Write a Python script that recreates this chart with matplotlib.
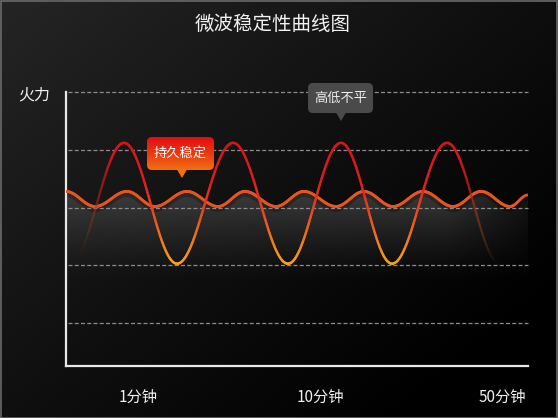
import numpy as np
import matplotlib
matplotlib.use('Agg')
import matplotlib.pyplot as plt
from matplotlib.collections import LineCollection
from matplotlib.colors import LinearSegmentedColormap
from matplotlib.patches import FancyBboxPatch, Polygon, Rectangle

plt.rcParams['font.family'] = ['Noto Sans CJK SC', 'DejaVu Sans']

# ---------------- data ----------------
title = '微波稳定性曲线图'
y_label = '火力'
x_tick_labels = ['1分钟', '10分钟', '50分钟']
x_tick_pos = [72, 254, 436]
grid_levels = [1, 2, 3, 4, 5]

# extrema of the "uneven" (conventional) wave
uneven_x = [4, 58, 111, 167, 222, 275, 326, 381, 434]
uneven_y = [2.03, 4.12, 2.03, 4.12, 2.03, 4.12, 2.03, 4.12, 2.03]

# extrema of the "stable" wave
stable_x = [0, 29, 61, 89, 121, 152, 179, 210, 238, 270, 298, 327, 357, 387, 415, 444, 462]
stable_y = [3.28, 3.02, 3.28, 3.02, 3.28, 3.02, 3.28, 3.02, 3.28, 3.02, 3.28, 3.02,
            3.28, 3.02, 3.28, 3.02, 3.22]

label_stable = '持久稳定'
label_uneven = '高低不平'


def smooth(xs, ys, n=40):
    X, Y = [], []
    for i in range(len(xs) - 1):
        t = np.linspace(0, 1, n, endpoint=False)
        X.append(xs[i] + t * (xs[i + 1] - xs[i]))
        Y.append(ys[i] + (ys[i + 1] - ys[i]) * (1 - np.cos(np.pi * t)) / 2)
    X.append([xs[-1]])
    Y.append([ys[-1]])
    return np.concatenate(X), np.concatenate(Y)


W, H = 558, 418
fig = plt.figure(figsize=(W / 100, H / 100), dpi=100)

# background gradient
bg = fig.add_axes([0, 0, 1, 1], zorder=-5)
gx, gy = np.meshgrid(np.linspace(0, 1, 300), np.linspace(0, 1, 220))
u = np.clip(0.6 * gx + 0.55 * gy, 0, 1)
v = 0.145 * (1 - u) ** 1.1
bg.imshow(np.dstack([v, v, v]), extent=[0, 1, 1, 0], aspect='auto')
bg.set_xlim(0, 1)
bg.set_ylim(1, 0)
bg.axis('off')
bg.add_patch(Rectangle((0.001, 0.001), 0.998, 0.997, fill=False, ec='#6a6a6a', lw=1.2,
                       transform=bg.transAxes))

# main axes
ax = fig.add_axes([66 / W, 1 - 366 / H, 462 / W, 274 / H])
ax.set_facecolor('none')
ax.set_xlim(0, 462)
ax.set_ylim(0.26, 5.0)
for s in ['top', 'right']:
    ax.spines[s].set_visible(False)
for s in ['left', 'bottom']:
    ax.spines[s].set_color('#e8e8e8')
    ax.spines[s].set_linewidth(1.6)
ax.set_xticks([])
ax.set_yticks([])

for g in grid_levels:
    ax.plot([2, 462], [g, g], color='#8c8c8c', lw=0.9, dashes=(3.2, 1.8), zorder=3,
            clip_on=False)

# stable wave and shading
sx, sy = smooth(stable_x, stable_y)
poly = Polygon(np.column_stack([np.r_[sx, sx[-1], sx[0]], np.r_[sy, 1.2, 1.2]]),
               closed=True, fc='none', ec='none')
ax.add_patch(poly)
hx, hy = np.meshgrid(np.linspace(0, 462, 400), np.linspace(1.2, 3.35, 200))
a = np.clip((hy - 1.7) / (3.3 - 1.7), 0, 1) ** 1.3 * 0.85
a *= np.clip(1 - (hx - 380) / 120, 0.25, 1)
shade = np.dstack([np.full_like(a, 0.27), np.full_like(a, 0.27), np.full_like(a, 0.27), a])
im = ax.imshow(shade, extent=[0, 462, 1.2, 3.35], origin='lower', aspect='auto', zorder=1)
im.set_clip_path(poly)
ax.plot(sx, sy - 0.06, color='black', lw=3.0, alpha=0.25, zorder=2)

sa = np.clip(1 - (sx - 440) / 40, 0.35, 1)
spts = np.column_stack([sx, sy]).reshape(-1, 1, 2)
sseg = np.concatenate([spts[:-1], spts[1:]], axis=1)
scol = np.zeros((len(sseg), 4))
scol[:, :3] = [0.91, 0.33, 0.12]
scol[:, 3] = sa[:-1]
ax.add_collection(LineCollection(sseg, colors=scol, linewidths=2.0, zorder=4,
                                 capstyle='round'))

# uneven wave with vertical colour gradient
ux, uy = smooth(uneven_x, uneven_y, n=80)
cmap = LinearSegmentedColormap.from_list('w', ['#f4a020', '#ea5a1c', '#dc1e1c', '#d8141a'])
norm = (uy - 2.03) / (4.12 - 2.03)
alpha = np.clip((ux - 10) / 38, 0, 1) ** 1.6 * np.clip(1 - (ux - 392) / 40, 0.06, 1) ** 1.5
pts = np.column_stack([ux, uy]).reshape(-1, 1, 2)
seg = np.concatenate([pts[:-1], pts[1:]], axis=1)
cols = cmap(norm[:-1])
fade = np.clip(np.r_[np.clip((ux - 10) / 38, 0, 1)[:-1]], 0, 1)
endfade = np.clip(1 - (ux[:-1] - 392) / 40, 0, 1)
dim = np.minimum(fade, endfade)
cols[:, :3] = cols[:, :3] * (0.45 + 0.55 * dim[:, None])
cols[:, 3] = alpha[:-1]
ax.add_collection(LineCollection(seg, colors=cols, linewidths=1.7, zorder=5,
                                 capstyle='round'))

# tick labels
for xp, lab in zip(x_tick_pos, x_tick_labels):
    ax.text(xp, -31 / 274, lab, transform=ax.get_xaxis_transform(), ha='center',
            va='center', color='#f0f0f0', fontsize=11)

fig.text(34 / W, 1 - 95 / H, y_label, ha='center', va='center', color='#f0f0f0', fontsize=11.5)
fig.text(273 / W, 1 - 24 / H, title, ha='center', va='center', color='#f2f2f2', fontsize=14)

# overlay for callouts (pixel coordinates)
ov = fig.add_axes([0, 0, 1, 1], zorder=10)
ov.set_facecolor('none')
ov.set_xlim(0, W)
ov.set_ylim(H, 0)
ov.axis('off')

# red callout
box1 = FancyBboxPatch((147, 137), 67, 33, boxstyle='round,pad=0,rounding_size=5',
                      fc='none', ec='none')
ov.add_patch(box1)
gcm = LinearSegmentedColormap.from_list('r', ['#e20c14', '#ea3a12', '#f27012'])
grad = np.linspace(0, 1, 100).reshape(-1, 1)
im1 = ov.imshow(grad, cmap=gcm, extent=[147, 214, 170, 137], aspect='auto', zorder=11)
im1.set_clip_path(box1)
ov.add_patch(Polygon([[177, 169.5], [187, 169.5], [182, 178]], closed=True, fc='#f27012',
                     ec='none', zorder=11))
ov.text(180.5, 153.5, label_stable, ha='center', va='center', color='white', fontsize=9.5,
        zorder=12)

# gray callout
box2 = FancyBboxPatch((308, 83), 65, 30, boxstyle='round,pad=0,rounding_size=5',
                      fc='#4a4a4a', ec='none', zorder=11)
ov.add_patch(box2)
ov.add_patch(Polygon([[336, 112.5], [346, 112.5], [341, 121]], closed=True, fc='#4a4a4a',
                     ec='none', zorder=11))
ov.text(340.5, 98, label_uneven, ha='center', va='center', color='#eeeeee', fontsize=9.5,
        zorder=12)

fig.savefig('out.png', dpi=100)
